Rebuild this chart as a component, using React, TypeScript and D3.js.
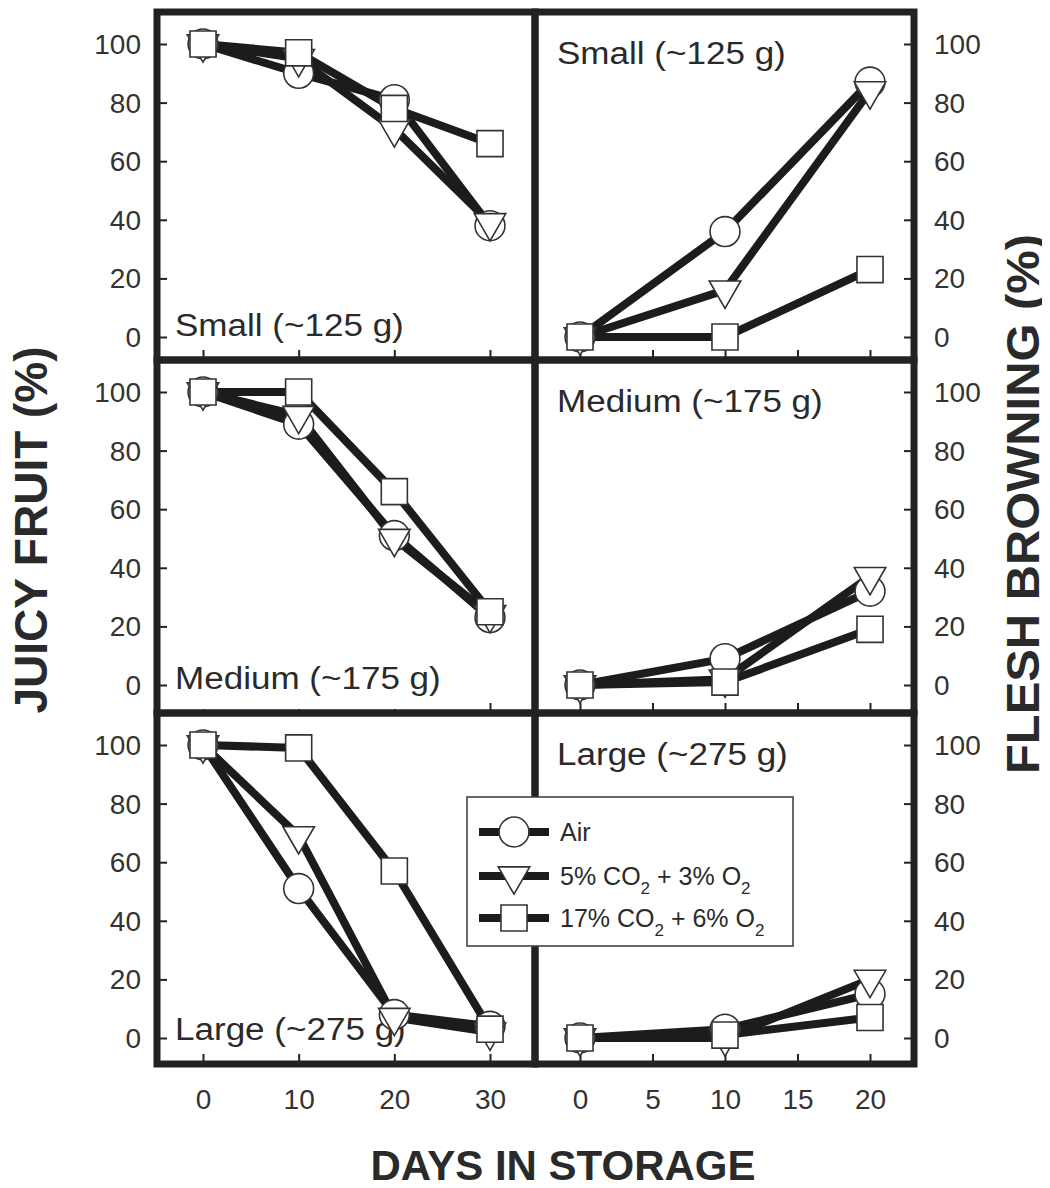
import React, { useRef, useEffect } from 'react';
import * as d3 from 'd3';

// days sampled in each half of the figure
const juicyDays = [0, 10, 20, 30];
const brownDays = [0, 10, 20];

// juicy fruit (%)
const juicySmallAir = [100, 90, 81, 38];
const juicySmallCa5 = [100, 95, 71, 39];
const juicySmallCa17 = [100, 97, 78, 66];
const juicyMediumAir = [100, 89, 51, 23];
const juicyMediumCa5 = [100, 92, 50, 24];
const juicyMediumCa17 = [100, 100, 66, 25];
const juicyLargeAir = [100, 51, 8, 4];
const juicyLargeCa5 = [100, 69, 7, 2];
const juicyLargeCa17 = [100, 99, 57, 3];

// flesh browning (%)
const brownSmallAir = [0, 36, 87];
const brownSmallCa5 = [0, 16, 84];
const brownSmallCa17 = [0, 0, 23];
const brownMediumAir = [0, 9, 32];
const brownMediumCa5 = [0, 2, 37];
const brownMediumCa17 = [0, 1, 19];
const brownLargeAir = [0, 3, 15];
const brownLargeCa5 = [0, 0, 20];
const brownLargeCa17 = [0, 1, 7];

const percentTicks = [0, 20, 40, 60, 80, 100];
const juicyDayTicks = [0, 10, 20, 30];
const brownDayTicks = [0, 5, 10, 15, 20];
const sizeLabels = ['Small (~125 g)', 'Medium (~175 g)', 'Large (~275 g)'];
const treatmentNames = ['Air', '5% CO2 + 3% O2', '17% CO2 + 6% O2'];

const juicyRows = [
  [juicySmallAir, juicySmallCa5, juicySmallCa17],
  [juicyMediumAir, juicyMediumCa5, juicyMediumCa17],
  [juicyLargeAir, juicyLargeCa5, juicyLargeCa17],
];
const brownRows = [
  [brownSmallAir, brownSmallCa5, brownSmallCa17],
  [brownMediumAir, brownMediumCa5, brownMediumCa17],
  [brownLargeAir, brownLargeCa5, brownLargeCa17],
];

const W = 1050;
const H = 1188;
const FONT = '"Liberation Sans", Arial, Helvetica, sans-serif';
const INK = '#222';
const TEXT = '#2a2a2a';

const colX = [[157, 535], [535, 914]];
const rowY = [[12, 360], [360, 713], [713, 1064]];

const symbols = [d3.symbolCircle, d3.symbolTriangle, d3.symbolSquare];
const symbolSizes = [700, 430, 680];
const symbolRotate = [0, 180, 0];

export default function App() {
  const svgRef = useRef<SVGSVGElement>(null);

  useEffect(() => {
    if (!svgRef.current) return;
    const svg = d3.select(svgRef.current);
    svg.selectAll('*').remove();

    svg.append('rect').attr('width', W).attr('height', H).attr('fill', '#fff');

    const xJuicy = d3.scaleLinear().domain([0, 30]).range([203, 490]);
    const xBrown = d3.scaleLinear().domain([0, 20]).range([580, 870]);

    const marker = (g: any, s: number, cx: number, cy: number) => {
      g.append('path')
        .attr('d', d3.symbol(symbols[s], symbolSizes[s])())
        .attr('transform', `translate(${cx},${cy}) rotate(${symbolRotate[s]})`)
        .attr('fill', '#fff')
        .attr('stroke', '#333')
        .attr('stroke-width', 1.6);
    };

    const stretch = (t: any, k: number) => {
      const node = t.node() as SVGTextElement;
      const len = node.getComputedTextLength();
      t.attr('textLength', len * k).attr('lengthAdjust', 'spacingAndGlyphs');
    };

    for (let r = 0; r < 3; r++) {
      for (let c = 0; c < 2; c++) {
        const [x0, x1] = colX[c];
        const [y0, y1] = rowY[r];
        const x = c === 0 ? xJuicy : xBrown;
        const days = c === 0 ? juicyDays : brownDays;
        const series = c === 0 ? juicyRows[r] : brownRows[r];
        const y = d3.scaleLinear().domain([0, 100]).range([y0 + 325, y0 + 32]);
        const g = svg.append('g');

        // axes: ticks point inward
        const yAxis = (c === 0 ? d3.axisLeft(y) : d3.axisRight(y))
          .tickValues(percentTicks).tickSize(-10).tickPadding(c === 0 ? 16 : 20);
        const ya = g.append('g').attr('transform', `translate(${c === 0 ? x0 : x1},0)`).call(yAxis);

        const xAxis = d3.axisBottom(x)
          .tickValues(c === 0 ? juicyDayTicks : brownDayTicks)
          .tickSize(-10).tickPadding(25)
          .tickFormat(r === 2 ? d3.format('d') : () => '');
        const xa = g.append('g').attr('transform', `translate(0,${y1})`).call(xAxis);

        [ya, xa].forEach(a => {
          a.attr('font-family', FONT).attr('font-size', 28).attr('color', INK);
          a.select('.domain').remove();
          a.selectAll('.tick line').attr('stroke-width', 2);
          a.selectAll('.tick text').attr('fill', '#333');
        });
        ya.selectAll('.tick text').attr('dy', '0.34em');

        // size class label
        const lx = c === 0 ? x0 + 18 : x0 + 22;
        const ly = c === 0 ? y1 - 24 : y0 + 52;
        const lab = g.append('text')
          .attr('x', lx).attr('y', ly)
          .attr('font-family', FONT).attr('font-size', 31).attr('fill', TEXT)
          .text(sizeLabels[r]);
        stretch(lab, 1.13);
        if (c === 0 && r === 1) {
          const bb = (lab.node() as SVGTextElement).getBBox();
          g.insert('rect', () => lab.node())
            .attr('x', bb.x).attr('y', bb.y).attr('width', bb.width).attr('height', y1 - 4 - bb.y)
            .attr('fill', '#fff');
        }

        // panel frame
        g.append('rect')
          .attr('x', x0).attr('y', y0).attr('width', x1 - x0).attr('height', y1 - y0)
          .attr('fill', 'none').attr('stroke', INK).attr('stroke-width', 7);

        const line = d3.line<number>().x((_, i) => x(days[i])).y(d => y(d));
        series.forEach(vals => {
          g.append('path').datum(vals)
            .attr('d', line)
            .attr('fill', 'none')
            .attr('stroke', '#1c1c1c')
            .attr('stroke-width', 8)
            .attr('stroke-linejoin', 'round');
        });
        series.forEach((vals, s) => {
          vals.forEach((v, i) => marker(g, s, x(days[i]), y(v)));
        });
      }
    }

    // legend
    const lg = svg.append('g');
    lg.append('rect')
      .attr('x', 467).attr('y', 797).attr('width', 326).attr('height', 149)
      .attr('fill', '#fff').attr('stroke', '#444').attr('stroke-width', 1.6);
    const rowsY = [832, 876, 918];
    treatmentNames.forEach((name, s) => {
      const cy = rowsY[s];
      lg.append('line')
        .attr('x1', 479).attr('x2', 549).attr('y1', cy).attr('y2', cy)
        .attr('stroke', '#1c1c1c').attr('stroke-width', 8);
      marker(lg, s, 514, cy);
      const t = lg.append('text')
        .attr('x', 560).attr('y', cy + 9)
        .attr('font-family', FONT).attr('font-size', 25).attr('fill', TEXT);
      // "CO2" / "O2" get a subscript 2
      const parts = name.split(/(?<=O)2/);
      let shift = 0;
      parts.forEach((p, i) => {
        if (p) { t.append('tspan').attr('dy', -shift).text(p); shift = 0; }
        if (i < parts.length - 1) {
          t.append('tspan').attr('dy', 9 - shift).attr('font-size', 17).text('2');
          shift = 9;
        }
      });
    });

    // axis titles
    svg.append('text')
      .attr('x', 563).attr('y', 1180)
      .attr('text-anchor', 'middle')
      .attr('font-family', FONT).attr('font-size', 42).attr('font-weight', 'bold').attr('fill', TEXT)
      .text('DAYS IN STORAGE');
    svg.append('text')
      .attr('transform', 'translate(47,530) rotate(-90)')
      .attr('text-anchor', 'middle')
      .attr('font-family', FONT).attr('font-size', 46).attr('font-weight', 'bold').attr('fill', TEXT)
      .text('JUICY FRUIT (%)');
    svg.append('text')
      .attr('transform', 'translate(1039,504) rotate(-90)')
      .attr('text-anchor', 'middle')
      .attr('font-family', FONT).attr('font-size', 46).attr('font-weight', 'bold').attr('fill', TEXT)
      .attr('textLength', 540).attr('lengthAdjust', 'spacingAndGlyphs')
      .text('FLESH BROWNING (%)');
  }, []);

  return (
    <svg ref={svgRef} width={W} height={H} style={{ display: 'block', margin: '-8px' }} />
  );
}
